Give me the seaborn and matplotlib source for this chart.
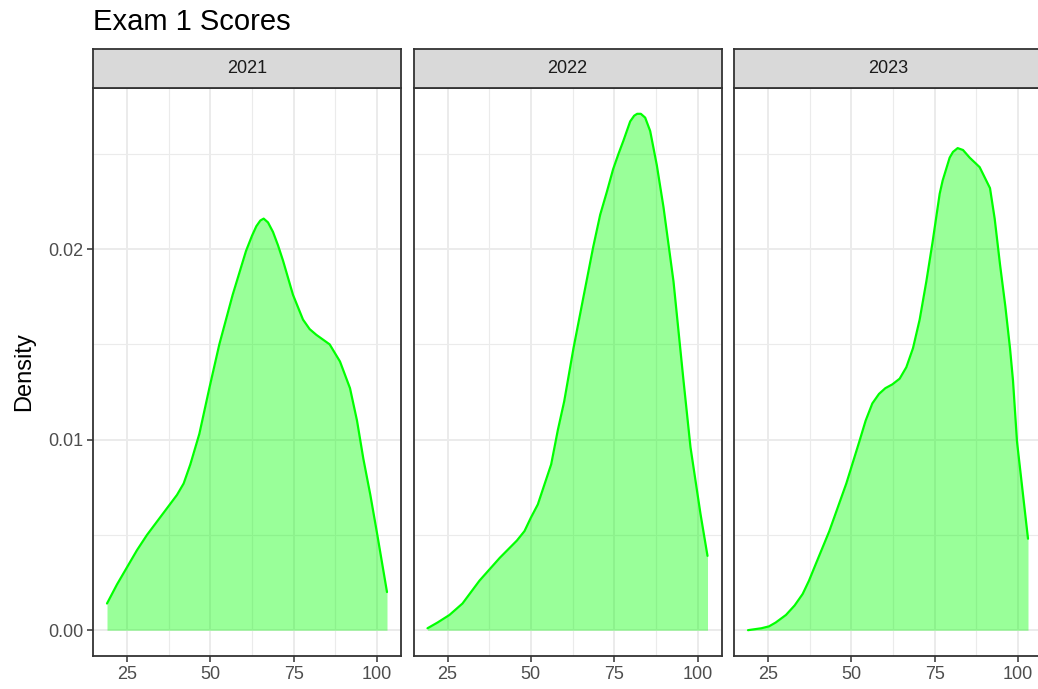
import numpy as np
import pandas as pd
import matplotlib
matplotlib.use("Agg")
import matplotlib.pyplot as plt
import seaborn as sns

# density curves, one facet per year
years = ["2021", "2022", "2023"]

x_2021 = [19, 22, 25, 28, 31, 34, 37, 40, 42, 44, 46.7, 49.7, 52.7, 56.7, 60.7,
          62.5, 63.8, 65, 66, 67.3, 68.8, 70.3, 71.8, 74.8, 77.8, 79.8, 81.8,
          85.8, 88.9, 91.9, 94, 95.9, 98, 100, 103]
d_2021 = [0.0014, 0.0024, 0.0033, 0.0042, 0.0050, 0.0057, 0.0064, 0.0071, 0.0077,
          0.0087, 0.0103, 0.0127, 0.0150, 0.0176, 0.0199, 0.0207, 0.0212, 0.0215,
          0.0216, 0.0214, 0.0209, 0.0202, 0.0194, 0.0176, 0.0163, 0.0158, 0.0155,
          0.0150, 0.0141, 0.0127, 0.0110, 0.0090, 0.0071, 0.0051, 0.0020]

x_2022 = [19, 22, 25.6, 29.5, 34.6, 40.7, 45.8, 48.1, 50, 52.1, 54, 56.1, 58.1,
          60, 62.8, 65.8, 68.7, 70.8, 72.8, 74.7, 76.3, 77.8, 79.8, 81, 81.9,
          83, 84.3, 85.8, 87.8, 89.8, 92.8, 95.8, 97.9, 100.9, 103]
d_2022 = [0.0001, 0.0004, 0.0008, 0.0014, 0.0026, 0.0038, 0.0047, 0.0052, 0.0059,
          0.0066, 0.0076, 0.0087, 0.0105, 0.0120, 0.0148, 0.0175, 0.0201, 0.0218,
          0.0230, 0.0242, 0.0250, 0.0257, 0.0267, 0.0270, 0.0271, 0.0271, 0.0269,
          0.0262, 0.0244, 0.0222, 0.0183, 0.0131, 0.0096, 0.0061, 0.0039]

x_2023 = [19, 23, 25.3, 27.3, 30.4, 33, 35.4, 37.3, 39.4, 43.4, 48.5, 52.4, 54.3,
          56.3, 58.3, 60.2, 62.3, 64.5, 66.5, 68.5, 70.5, 72.5, 74.4, 76.5, 77.4,
          79.5, 80.5, 81.9, 83.5, 85.5, 88.5, 91.6, 93, 94.6, 96.2, 97.6, 98.5,
          99.7, 103]
d_2023 = [0.0000, 0.0001, 0.0002, 0.0004, 0.0008, 0.0013, 0.0019, 0.0026, 0.0035,
          0.0052, 0.0077, 0.0099, 0.0110, 0.0119, 0.0124, 0.0127, 0.0129, 0.0132,
          0.0138, 0.0148, 0.0163, 0.0183, 0.0204, 0.0229, 0.0236, 0.0248, 0.0251,
          0.0253, 0.0252, 0.0248, 0.0243, 0.0232, 0.0216, 0.0192, 0.0170, 0.0148,
          0.0131, 0.0099, 0.0048]

x_ticks = [25, 50, 75, 100]
y_ticks = [0.00, 0.01, 0.02]
y_tick_labels = ["0.00", "0.01", "0.02"]

df = pd.concat([
    pd.DataFrame({"year": y, "score": xs, "density": ds})
    for y, xs, ds in zip(years, [x_2021, x_2022, x_2023], [d_2021, d_2022, d_2023])
])

sns.set_theme(style="white")
plt.rcParams["font.family"] = ["Liberation Sans", "DejaVu Sans"]

W, H = 1038, 689
fig = plt.figure(figsize=(W / 100, H / 100), dpi=100)

# ggplot style 5% expansion
xmin, xmax = df.score.min(), df.score.max()
xr = xmax - xmin
xlim = (xmin - 0.05 * xr, xmax + 0.05 * xr)
ymax = df.density.max()
ylim = (-0.05 * ymax, 1.05 * ymax)

panel_left = [93, 413.5, 734]
panel_w = 308
panel_top, panel_bot = 88, 656
strip_top = 49
border = "#333333"

for i, year in enumerate(years):
    ax = fig.add_axes([panel_left[i] / W, (H - panel_bot) / H,
                       panel_w / W, (panel_bot - panel_top) / H])
    sub = df[df.year == year]
    ax.fill_between(sub.score, 0, sub.density, color="#00FF00", alpha=0.4,
                    linewidth=0, zorder=2)
    sns.lineplot(data=sub, x="score", y="density", ax=ax, color="#00FF00",
                 linewidth=1.6, sort=False, zorder=3)

    ax.set_xlim(xlim)
    ax.set_ylim(ylim)
    ax.set_xticks(x_ticks)
    ax.set_xticks([37.5, 62.5, 87.5], minor=True)
    ax.set_yticks(y_ticks)
    ax.set_yticks([0.005, 0.015, 0.025], minor=True)
    ax.grid(which="major", color="#EBEBEB", linewidth=1.4, zorder=0)
    ax.grid(which="minor", color="#EBEBEB", linewidth=0.8, zorder=0)
    ax.set_axisbelow(True)
    for s in ax.spines.values():
        s.set_color(border)
        s.set_linewidth(1.3)
    ax.tick_params(axis="x", which="major", length=4, width=1.1, color=border,
                   labelsize=13, labelcolor="#4D4D4D", pad=3, bottom=True)
    ax.tick_params(which="minor", length=0)
    ax.set_xlabel("")
    if i == 0:
        ax.set_yticklabels(y_tick_labels)
        ax.tick_params(axis="y", which="major", length=4, width=1.1, color=border,
                       labelsize=13, labelcolor="#4D4D4D", pad=3, left=True)
        ax.set_ylabel("Density", fontsize=17, color="black", labelpad=9)
    else:
        ax.tick_params(axis="y", which="major", length=0, labelleft=False)
        ax.set_ylabel("")

    # facet strip
    sax = fig.add_axes([panel_left[i] / W, (H - panel_top) / H,
                        panel_w / W, (panel_top - strip_top) / H])
    sax.set_facecolor("#D9D9D9")
    sax.set_xticks([])
    sax.set_yticks([])
    for s in sax.spines.values():
        s.set_color(border)
        s.set_linewidth(1.3)
    sax.text(0.5, 0.5, year, ha="center", va="center", fontsize=13,
             color="#1A1A1A", transform=sax.transAxes)

fig.text(93 / W, (H - 22) / H, "Exam 1 Scores", fontsize=21, ha="left",
         va="center", color="black")

fig.savefig("out.png", dpi=100)
